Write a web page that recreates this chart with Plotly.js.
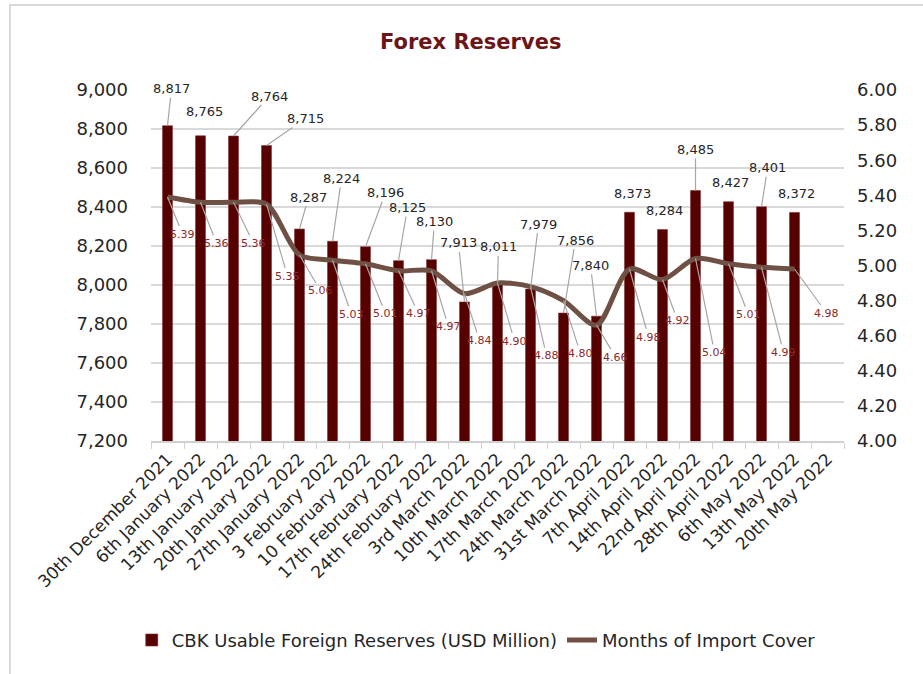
<!DOCTYPE html>
<html>
<head>
<meta charset="utf-8">
<script src="https://cdn.plot.ly/plotly-3.0.1.min.js"></script>
<style>
  html, body { margin: 0; padding: 0; background: #ffffff; }
  #chart { position: absolute; left: 0; top: 0; width: 923px; height: 674px; }
  #frame { position: absolute; left: 9px; top: 4px; width: 930px; height: 680px;
           border-top: 2px solid #d9d9d9; border-left: 2px solid #d9d9d9; pointer-events: none; }
</style>
</head>
<body>
<div id="chart"></div>
<div id="frame"></div>
<script>
// ---- data ----
const categories = [
  "30th December 2021", "6th January 2022", "13th January 2022", "20th January 2022",
  "27th January 2022", "3 February 2022", "10 February 2022", "17th February 2022",
  "24th February 2022", "3rd March 2022", "10th March 2022", "17th March 2022",
  "24th March 2022", "31st March 2022", "7th April 2022", "14th April 2022",
  "22nd April 2022", "28th April 2022", "6th May 2022", "13th May 2022", "20th May 2022"
];
const reserves = [8817, 8765, 8764, 8715, 8287, 8224, 8196, 8125, 8130, 7913,
                  8011, 7979, 7856, 7840, 8373, 8284, 8485, 8427, 8401, 8372, null];
const importCover = [5.39, 5.36, 5.36, 5.35, 5.06, 5.03, 5.01, 4.97, 4.97, 4.84,
                     4.90, 4.88, 4.80, 4.66, 4.98, 4.92, 5.04, 5.01, 4.99, 4.98, null];
const reservesName = "CBK Usable Foreign Reserves (USD Million)";
const coverName = "Months of Import Cover";
const chartTitle = "Forex Reserves";

// ---- label callout offsets (pixels, layout only) ----
const barLabelDx = [4, 4, 36, 39, 9, 9, 20, 9, 3, -6, 1, 8, 12, -6, 3, 2, 0, 2, 6, 2];
const barLabelDy = [-37, -24, -40, -27, -32, -63, -54, -53, -38, -59, -36, -65, -73, -51, -19, -19, -41, -19, -39, -19];
const coverLabelDx = [15, 16, 20, 21, 21, 19, 20, 20, 17, 15, 17, 16, 17, 19, 19, 15, 19, 20, 22, 32];
const coverLabelDy = [37, 41, 41, 72, 36, 54, 50, 43, 56, 47, 58, 69, 53, 32, 68, 41, 94, 51, 85, 44];

const FONT = "DejaVu Sans, Verdana, sans-serif";
const annotations = [];

reserves.forEach((v, i) => {
  if (v === null) return;
  const dx = barLabelDx[i], dy = barLabelDy[i];
  const far = Math.abs(dy) > 24 || Math.abs(dx) > 20;
  const a = {
    x: categories[i], y: v, xref: "x", yref: "y",
    text: v.toLocaleString("en-US"),
    font: { family: FONT, size: 13, color: "#262626" },
    showarrow: far
  };
  if (far) {
    Object.assign(a, { ax: dx, ay: dy, arrowhead: 0, arrowwidth: 1.2, arrowcolor: "#a6a6a6", standoff: 0, startstandoff: 0 });
  } else {
    Object.assign(a, { xshift: dx, yshift: -dy, xanchor: "center", yanchor: "middle" });
  }
  annotations.push(a);
});

importCover.forEach((v, i) => {
  if (v === null) return;
  annotations.push({
    x: categories[i], y: v, xref: "x", yref: "y2",
    text: v.toFixed(2),
    font: { family: FONT, size: 11, color: "#8c2a2a" },
    showarrow: true, ax: coverLabelDx[i], ay: coverLabelDy[i],
    arrowhead: 0, arrowwidth: 1.2, arrowcolor: "#a6a6a6", standoff: 0
  });
});

const traces = [
  {
    type: "bar", name: reservesName, x: categories, y: reserves,
    marker: { color: "#560000", line: { color: "#7a2e2e", width: 0.6 } },
    width: 0.3, yaxis: "y", hoverinfo: "x+y"
  },
  {
    type: "scatter", mode: "lines", name: coverName, x: categories, y: importCover,
    line: { color: "#6e5044", width: 5, shape: "spline", smoothing: 0.8 },
    yaxis: "y2", connectgaps: false
  }
];

const layout = {
  width: 923, height: 674,
  margin: { l: 151, r: 79, t: 90, b: 233, autoexpand: false },
  paper_bgcolor: "rgba(0,0,0,0)", plot_bgcolor: "rgba(0,0,0,0)",
  font: { family: FONT, color: "#262626" },
  title: {
    text: "<b>" + chartTitle + "</b>",
    font: { family: FONT, size: 21, color: "#6b1517" },
    x: 0.51, xanchor: "center", y: 0.938, yanchor: "middle"
  },
  bargap: 0.7,
  showlegend: true,
  legend: {
    orientation: "h", xref: "container", yref: "container",
    x: 0.516, xanchor: "center", y: 0.05, yanchor: "middle",
    font: { family: FONT, size: 18, color: "#262626" },
    traceorder: "normal", itemwidth: 30
  },
  xaxis: {
    type: "category", tickangle: -45,
    tickfont: { family: FONT, size: 17, color: "#262626" },
    showgrid: false, showline: true, linecolor: "#d0d0d0", linewidth: 1.5,
    ticks: "outside", tickson: "boundaries", ticklen: 6, tickcolor: "#d0d0d0",
    range: [-0.5, 20.5]
  },
  yaxis: {
    range: [7200, 9000], dtick: 200, tickformat: ",d",
    tickfont: { family: FONT, size: 18, color: "#262626" },
    showgrid: true, gridcolor: "#d9d9d9", gridwidth: 1.5,
    zeroline: false, showline: false, ticks: "", ticklabelstandoff: 22
  },
  yaxis2: {
    overlaying: "y", side: "right", range: [4, 6], dtick: 0.2, tickformat: ".2f",
    tickfont: { family: FONT, size: 18, color: "#262626" },
    showgrid: false, zeroline: false, showline: false, ticks: "", ticklabelstandoff: 12
  },
  annotations: annotations
};

Plotly.newPlot("chart", traces, layout, { displayModeBar: false, staticPlot: true });
</script>
</body>
</html>
